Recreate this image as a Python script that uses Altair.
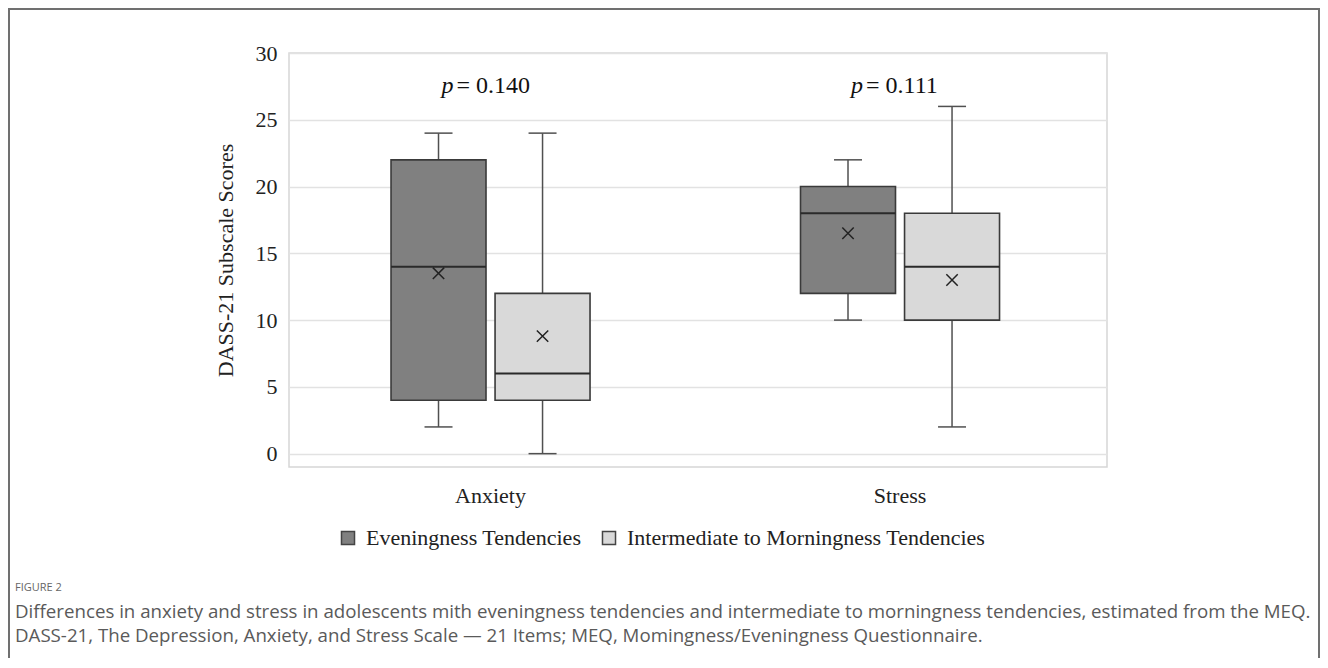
import altair as alt
import pandas as pd

categories = ["Anxiety", "Stress"]
groups = ["Eveningness Tendencies", "Intermediate to Morningness Tendencies"]

# per (category, group): Anxiety-Eve, Anxiety-Int, Stress-Eve, Stress-Int
box_cat = ["Anxiety", "Anxiety", "Stress", "Stress"]
box_grp = [groups[0], groups[1], groups[0], groups[1]]
mins = [2, 0, 10, 2]
q1s = [4, 4, 12, 10]
medians = [14, 6, 18, 14]
q3s = [22, 12, 20, 18]
maxs = [24, 24, 22, 26]
means = [13.5, 8.8, 16.5, 13.0]

p_cat = ["Anxiety", "Stress"]
p_val = ["= 0.140", "= 0.111"]
p_y = [27.5, 27.5]

y_ticks = [0, 5, 10, 15, 20, 25, 30]

caption_head = "FIGURE 2"
caption_1 = ("Differences in anxiety and stress in adolescents mith eveningness tendencies and "
             "intermediate to morningness tendencies, estimated from the MEQ.")
caption_2 = ("DASS-21, The Depression, Anxiety, and Stress Scale \u2014 21 Items; MEQ, "
             "Momingness/Eveningness Questionnaire.")

df = pd.DataFrame({
    "category": box_cat, "group": box_grp, "min": mins, "q1": q1s,
    "median": medians, "q3": q3s, "max": maxs, "mean": means,
})
pdf = pd.DataFrame({"category": p_cat, "text": p_val, "y": p_y})

SERIF = "Liberation Serif"
x_scale = alt.Scale(domain=categories, paddingInner=0.514, paddingOuter=0.2558, align=0.487)
xo_scale = alt.Scale(domain=groups, paddingInner=0.087, paddingOuter=0)
y_scale = alt.Scale(domain=[-1, 30], nice=False, zero=False)

X = alt.X("category:N", scale=x_scale,
          axis=alt.Axis(title=None, labelAngle=0, domain=False, ticks=False, grid=False,
                        labelPadding=18, labelFont=SERIF, labelFontSize=22, labelColor="#222"))
XO = alt.XOffset("group:N", scale=xo_scale)
Y_AX = alt.Axis(title="DASS-21 Subscale Scores", values=y_ticks, domain=False, ticks=False,
                grid=True, gridColor="#e2e2e2", gridWidth=1.5, labelPadding=12,
                labelFont=SERIF, labelFontSize=22, labelColor="#222",
                titleFont=SERIF, titleFontSize=22, titleFontWeight="normal",
                titleColor="#222", titlePadding=18)

base = alt.Chart(df).encode(x=X, xOffset=XO)

whisker = base.mark_rule(color="#505050", strokeWidth=1.5).encode(
    y=alt.Y("min:Q", scale=y_scale, axis=Y_AX), y2="max:Q")

box = base.mark_bar(stroke="#3a3a3a", strokeWidth=1.6, opacity=1).encode(
    y=alt.Y("q1:Q", scale=y_scale), y2="q3:Q",
    color=alt.Color("group:N", scale=alt.Scale(domain=groups, range=["#808080", "#d9d9d9"]),
                    legend=alt.Legend(title=None, orient="none", direction="horizontal",
                                      legendX=48, legendY=474, symbolType="square",
                                      symbolSize=170, symbolStrokeColor="#444",
                                      symbolStrokeWidth=1.5, labelFont=SERIF,
                                      labelFontSize=22, labelColor="#222", labelOffset=7,
                                      labelLimit=0, columnPadding=16)))

median = base.mark_tick(color="#2a2a2a", thickness=2, size=95, opacity=1).encode(
    y=alt.Y("median:Q", scale=y_scale))
cap_lo = base.mark_tick(color="#505050", thickness=1.5, size=28, opacity=1).encode(
    y=alt.Y("min:Q", scale=y_scale))
cap_hi = base.mark_tick(color="#505050", thickness=1.5, size=28, opacity=1).encode(
    y=alt.Y("max:Q", scale=y_scale))
mean_pt = base.mark_point(shape="M-1,-1L1,1M-1,1L1,-1", size=130, filled=False,
                          stroke="#222", strokeWidth=1.5, opacity=1).encode(
    y=alt.Y("mean:Q", scale=y_scale))

pbase = alt.Chart(pdf).encode(x=alt.X("category:N", scale=x_scale),
                              y=alt.Y("y:Q", scale=y_scale))
p_italic = pbase.mark_text(text="p", font=SERIF, fontSize=24, fontStyle="italic",
                           align="right", baseline="middle", dx=-37, color="#111")
p_rest = pbase.mark_text(font=SERIF, fontSize=24, align="left", baseline="middle",
                         dx=-34, color="#111").encode(text="text:N")

frame = alt.Chart(pd.DataFrame({"a": [0]})).mark_rect(
    filled=False, stroke="#707070", strokeWidth=2).encode(
    x=alt.value(-280), x2=alt.value(1030), y=alt.value(-44), y2=alt.value(640))

cap_font = "Open Sans"
capdf = pd.DataFrame({"a": [0]})
cap0 = alt.Chart(capdf).mark_text(text=caption_head, font=cap_font, fontSize=11,
                                  align="left", baseline="middle", color="#666").encode(
    x=alt.value(-274), y=alt.value(535))
cap1 = alt.Chart(capdf).mark_text(text=caption_1, font=cap_font, fontSize=18.7,
                                  align="left", baseline="middle", color="#5a5a5a").encode(
    x=alt.value(-274), y=alt.value(559))
cap2 = alt.Chart(capdf).mark_text(text=caption_2, font=cap_font, fontSize=18.7,
                                  align="left", baseline="middle", color="#5a5a5a").encode(
    x=alt.value(-274), y=alt.value(583))

chart = alt.layer(frame, whisker, box, median, cap_lo, cap_hi, mean_pt, p_italic, p_rest,
                  cap0, cap1, cap2).properties(
    width=818, height=414,
    autosize=alt.AutoSizeParams(type="none"),
    padding={"left": 281, "top": 45, "right": 213, "bottom": 191},
    background="white",
).configure_view(stroke="#d6d6d6", strokeWidth=1.5)

chart.save("out.html", embed_options={"renderer": "svg", "actions": False})
